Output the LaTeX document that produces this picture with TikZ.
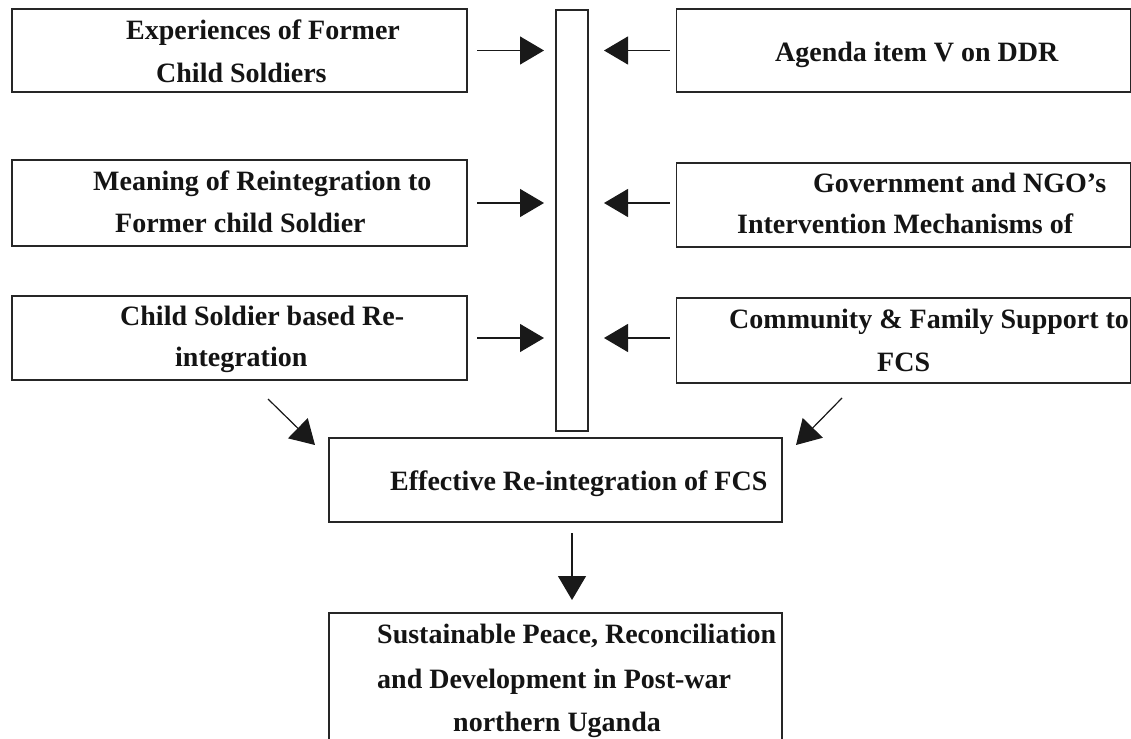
\documentclass[tikz,border=0pt]{standalone}
\usepackage{fontspec}
\setmainfont{Liberation Serif}
\usetikzlibrary{arrows.meta}
\begin{document}
\begin{tikzpicture}[x=1pt,y=-1pt,
  boxstyle/.style={draw=black!85, line width=1.3pt, inner sep=0pt, outer sep=0pt, fill=white},
  txt/.style={anchor=base west, inner sep=0pt, font=\fontsize{28}{34}\selectfont\bfseries, text=black!92},
  arr/.style={-{Triangle[length=24pt,width=28pt]}, line width=1.2pt, draw=black!90, fill=black}]
\fill[white] (0,0) rectangle (1131,738);
\useasboundingbox (0,0) rectangle (1131,738);
% boxes
\node[boxstyle, minimum width=455pt, minimum height=83pt] (b1) at (239.5,50.5) {};
\node[boxstyle, minimum width=455pt, minimum height=86pt] (b2) at (239.5,203) {};
\node[boxstyle, minimum width=455pt, minimum height=84pt] (b3) at (239.5,338) {};
\node[boxstyle, minimum width=454pt, minimum height=83pt] (r1) at (903.5,50.5) {};
\node[boxstyle, minimum width=454pt, minimum height=84pt] (r2) at (903.5,205) {};
\node[boxstyle, minimum width=454pt, minimum height=85pt] (r3) at (903.5,340.5) {};
\node[boxstyle, minimum width=32pt, minimum height=421pt] (bar) at (572,220.5) {};
\node[boxstyle, minimum width=453pt, minimum height=84pt] (eff) at (555.5,480) {};
\node[boxstyle, minimum width=453pt, minimum height=128pt] (sus) at (555.5,677) {};
% texts
\node[txt] (t1a) at (126,40) {Experiences of Former};
\node[txt] (t1b) at (156,83) {Child Soldiers};
\node[txt] (t2a) at (93,190) {Meaning of Reintegration to};
\node[txt] (t2b) at (115,232) {Former child Soldier};
\node[txt] (t3a) at (120,325) {Child Soldier based Re-};
\node[txt] (t3b) at (175,366) {integration};
\node[txt] (u1a) at (775,62) {Agenda item V on DDR};
\node[txt] (u2a) at (813,192) {Government and NGO’s};
\node[txt] (u2b) at (737,233) {Intervention Mechanisms of};
\node[txt] (u3a) at (729,328) {Community \& Family Support to};
\node[txt] (u3b) at (877,371) {FCS};
\node[txt] (e1) at (390,490) {Effective Re-integration of FCS};
\node[txt] (s1) at (377,643) {Sustainable Peace, Reconciliation};
\node[txt] (s2) at (377,688) {and Development in Post-war};
\node[txt] (s3) at (453,731) {northern Uganda};
% horizontal arrows
\foreach \b in {b1,b2,b3}
  \draw[arr, shorten <=10pt, shorten >=12pt] (\b.east) -- (\b.east -| bar.west);
\foreach \r/\b in {r1/b1,r2/b2,r3/b3}
  \draw[arr, shorten >=16pt] (\r.west |- \b.east) ++(-7pt,0) -- (\b.east -| bar.east);
% diagonal and down arrows
\coordinate (dl1) at (268,399);
\coordinate (dl2) at (315,445);
\coordinate (dr1) at (842,398);
\coordinate (dr2) at (796,445);
\coordinate (dd1) at (572,533);
\coordinate (dd2) at (572,600);
\draw[arr] (dl1) -- (dl2);
\draw[arr] (dr1) -- (dr2);
\draw[arr] (dd1) -- (dd2);
\end{tikzpicture}
\end{document}
